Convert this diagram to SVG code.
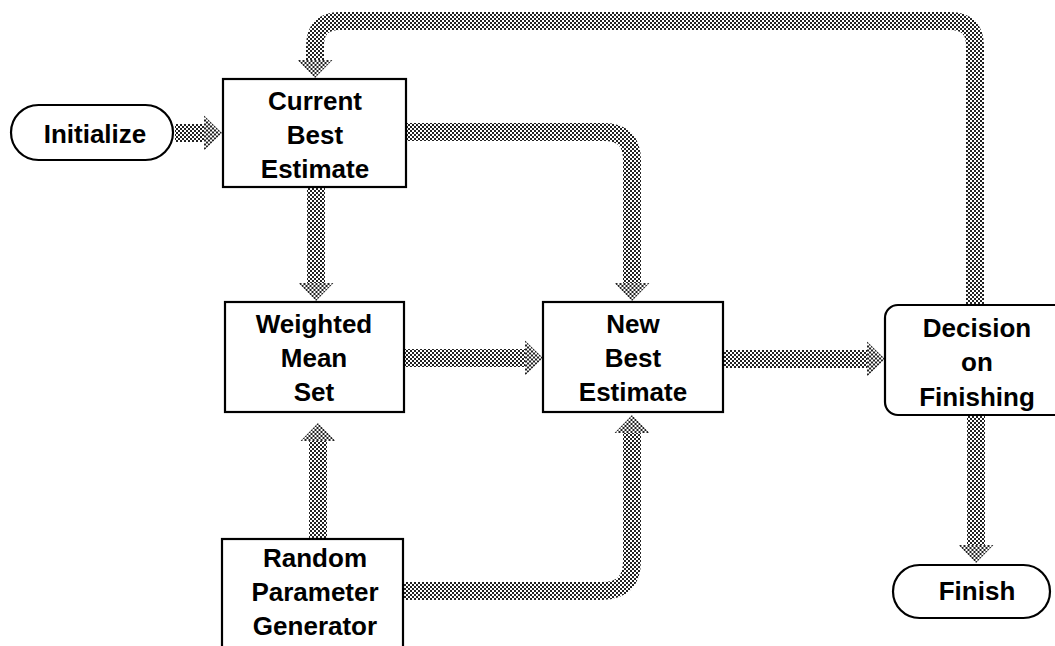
<svg xmlns="http://www.w3.org/2000/svg" width="1055" height="646" viewBox="0 0 1055 646">
<style>
.box{fill:#fff;stroke:#000;stroke-width:2.2}
.lbl{font-family:"Liberation Sans",Arial,sans-serif;font-weight:bold;font-size:26px;fill:#000;text-anchor:middle}
.flow{fill:none;stroke:url(#dither);stroke-width:18}
</style>
<defs>
<pattern id="dither" patternUnits="userSpaceOnUse" width="4" height="4">
<rect width="4" height="4" fill="#fff"/>
<rect x="0" y="0" width="2" height="2" fill="#222"/>
<rect x="2" y="2" width="2" height="2" fill="#222"/>
</pattern>
<marker id="head" markerUnits="userSpaceOnUse" viewBox="0 0 18 35" refX="0" refY="17.5" markerWidth="18" markerHeight="35" orient="auto" overflow="visible">
<path d="M0,0 L18,17.5 L0,35 Z" fill="url(#dither)"/>
</marker>
</defs>
<rect width="1055" height="646" fill="#fff"/>
<g id="connectors">
<path class="flow" marker-end="url(#head)" d="M175,133 H204"/>
<path class="flow" marker-end="url(#head)" d="M975,305 V46 Q975,21 950,21 H340 Q315,21 315,46 V60"/>
<path class="flow" marker-end="url(#head)" d="M316,187 V283"/>
<path class="flow" marker-end="url(#head)" d="M406,132 H604 Q632,132 632,160 V283"/>
<path class="flow" marker-end="url(#head)" d="M404,358 H525"/>
<path class="flow" marker-end="url(#head)" d="M318,539 V441"/>
<path class="flow" marker-end="url(#head)" d="M403,591 H602 Q632,591 632,561 V433"/>
<path class="flow" marker-end="url(#head)" d="M723,359 H867"/>
<path class="flow" marker-end="url(#head)" d="M976,415 V545"/>
</g>
<g id="initialize">
<rect class="box" x="11" y="105" width="162" height="55" rx="27.5"/>
<text class="lbl" x="95" y="143">Initialize</text>
</g>
<g id="current-best-estimate">
<rect class="box" x="223" y="79" width="183" height="108"/>
<text class="lbl" x="315" y="110">Current</text>
<text class="lbl" x="315" y="144">Best</text>
<text class="lbl" x="315" y="178">Estimate</text>
</g>
<g id="weighted-mean-set">
<rect class="box" x="225" y="302" width="179" height="110"/>
<text class="lbl" x="314" y="333">Weighted</text>
<text class="lbl" x="314" y="367">Mean</text>
<text class="lbl" x="314" y="401">Set</text>
</g>
<g id="new-best-estimate">
<rect class="box" x="543" y="302" width="180" height="110"/>
<text class="lbl" x="633" y="333">New</text>
<text class="lbl" x="633" y="367">Best</text>
<text class="lbl" x="633" y="401">Estimate</text>
</g>
<g id="decision-on-finishing">
<rect class="box" x="885" y="305" width="190" height="110" rx="13"/>
<text class="lbl" x="977" y="337">Decision</text>
<text class="lbl" x="977" y="371">on</text>
<text class="lbl" x="977" y="406">Finishing</text>
</g>
<g id="finish">
<rect class="box" x="893" y="565" width="157" height="53" rx="26.5"/>
<text class="lbl" x="977" y="600">Finish</text>
</g>
<g id="random-parameter-generator">
<rect class="box" x="222" y="539" width="181" height="115"/>
<text class="lbl" x="315" y="567">Random</text>
<text class="lbl" x="315" y="601">Parameter</text>
<text class="lbl" x="315" y="635">Generator</text>
</g>
</svg>
